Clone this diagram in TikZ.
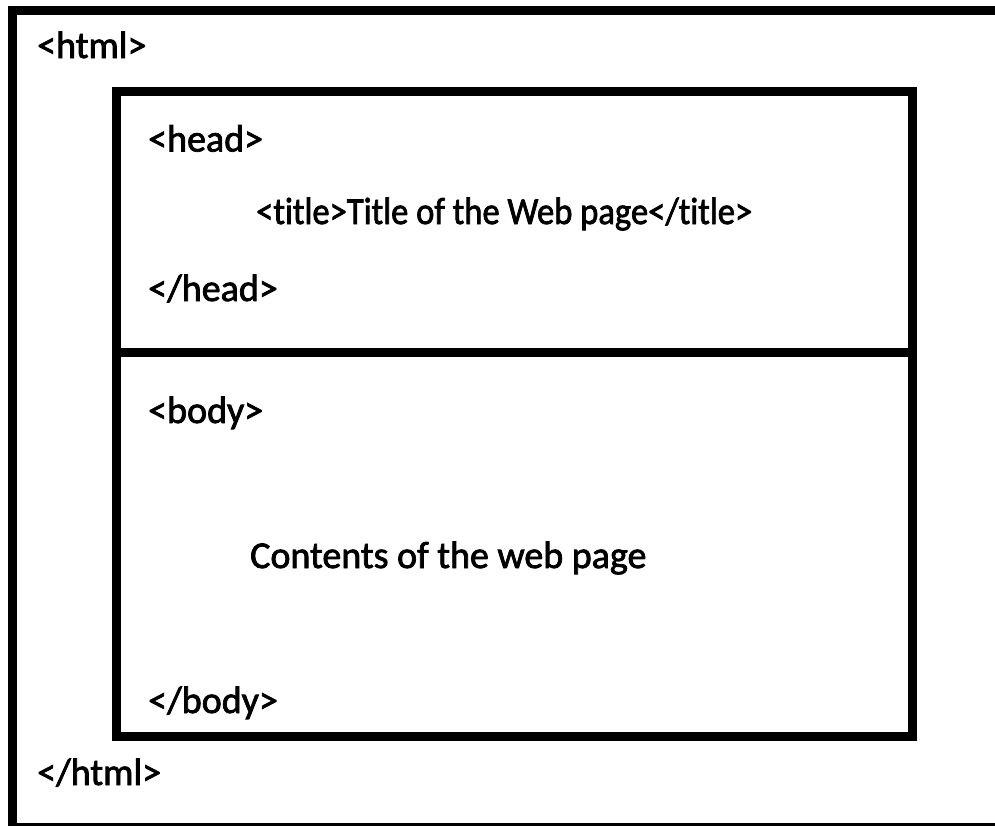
\documentclass[tikz,border=0pt]{standalone}
\usepackage{fontspec}
\setmainfont{Carlito}[Ligatures=NoCommon]
\newfontfamily\tagfont{Carlito}[Ligatures=NoCommon,FakeBold=2]
\begin{document}
\begin{tikzpicture}[x=1pt,y=-1pt,
  frame/.style={draw=black,line width=9pt},
  tag/.style={inner sep=0pt,anchor=base west,font=\tagfont\fontsize{38}{45}\selectfont}]
\useasboundingbox (0,0) rectangle (995,825);
\clip (0,0) rectangle (995,825);
\fill[white] (0,0) rectangle (995,825);
% outer html box (cropped on right and bottom)
\draw[frame] (12,10.5) rectangle (1010,827.5);
% inner box
\draw[frame] (116,91.5) rectangle (912.5,736.5);
\coordinate (dl) at (116,352.5);
\coordinate (dr) at (912.5,352.5);
\draw[frame] (dl) -- (dr);
\node[tag] (html) at (37,58) {<html>};
\node[tag] (head) at (148,151.5) {<head>};
\node[tag] (title) at (256,224) {\scalebox{0.91}[1]{<title>Title of the Web page</title>}};
\node[tag] (ehead) at (148,301) {</head>};
\node[tag] (body) at (148,423) {<body>};
\node[tag] (contents) at (250,568) {Contents of the web page};
\node[tag] (ebody) at (148,713) {</body>};
\node[tag] (ehtml) at (37,785) {</html>};
\end{tikzpicture}
\end{document}
